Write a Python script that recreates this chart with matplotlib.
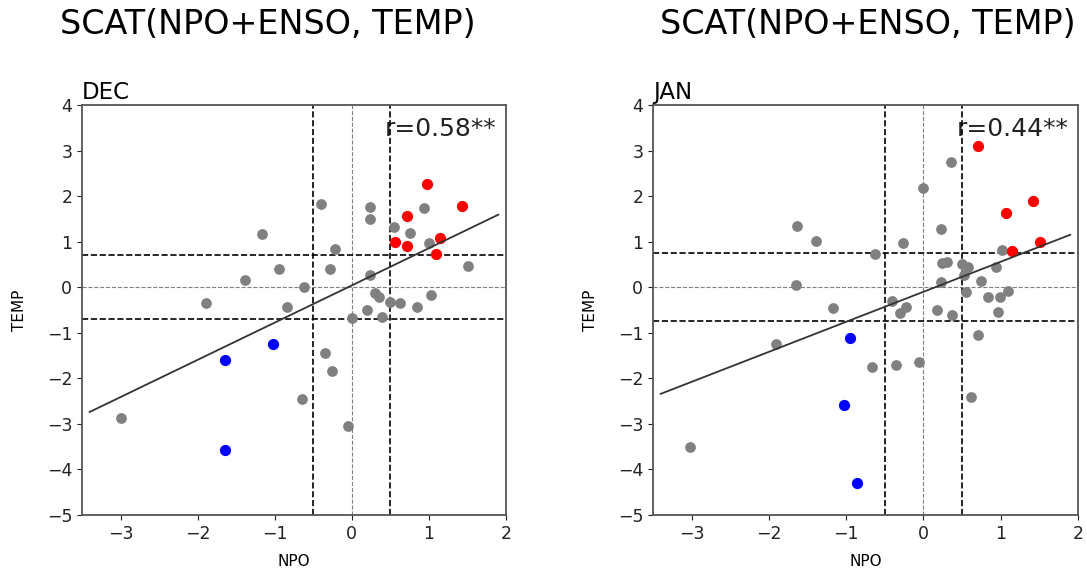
import numpy as np
import matplotlib.pyplot as plt

# ---------------- data ----------------
months = ["DEC", "JAN"]
r_labels = ["r=0.58**", "r=0.44**"]

dec_gray_npo = [-2.99, -1.89, -1.39, -1.16, -0.94, -0.84, -0.62, -0.64, -0.40, -0.35, -0.26,
                -0.05, -0.22, -0.28, 0.24, 0.24, 0.94, 0.55, 0.76, 1.00, 1.51, 0.23, 0.30,
                0.35, 0.49, 0.62, 0.85, 1.03, 0.20, 0.00, 0.39]
dec_gray_temp = [-2.87, -0.35, 0.15, 1.16, 0.40, -0.44, 0.00, -2.45, 1.82, -1.45, -1.84,
                 -3.05, 0.83, 0.39, 1.76, 1.49, 1.75, 1.33, 1.19, 0.96, 0.46, 0.26, -0.13,
                 -0.22, -0.32, -0.35, -0.44, -0.18, -0.50, -0.68, -0.65]
dec_red_npo = [0.98, 1.43, 0.72, 0.56, 0.72, 1.15, 1.09]
dec_red_temp = [2.26, 1.78, 1.56, 0.99, 0.90, 1.09, 0.73]
dec_blue_npo = [-1.65, -1.02, -1.65]
dec_blue_temp = [-1.60, -1.25, -3.57]

jan_gray_npo = [-1.64, -1.39, -1.65, -3.02, -1.91, -0.63, -0.27, -0.01, -1.17, -0.41, -0.23,
                -0.31, 0.35, 0.23, 0.24, 0.30, 0.50, 0.57, 0.53, 0.94, 0.75, 0.23, 0.55,
                0.83, 0.99, 1.10, 0.18, 0.37, 0.97, 1.02, -0.66, -0.35, -0.06, 0.70, 0.61]
jan_gray_temp = [1.34, 1.01, 0.04, -3.51, -1.25, 0.74, 0.96, 2.17, -0.46, -0.31, -0.44,
                 -0.57, 2.74, 1.27, 0.53, 0.55, 0.50, 0.44, 0.26, 0.44, 0.13, 0.11, -0.11,
                 -0.22, -0.22, -0.09, -0.50, -0.61, -0.55, 0.81, -1.75, -1.71, -1.65, -1.05, -2.41]
jan_red_npo = [0.70, 1.42, 1.07, 1.51, 1.15]
jan_red_temp = [3.11, 1.89, 1.62, 0.99, 0.79]
jan_blue_npo = [-0.95, -1.03, -0.86]
jan_blue_temp = [-1.11, -2.59, -4.30]

# thresholds and fitted line (slope, intercept) per month
npo_thresh = [0.5, 0.5]
temp_thresh = [0.70, 0.75]
fit_slope = [0.817, 0.659]
fit_icpt = [0.04, -0.10]

panels = [
    (dec_gray_npo, dec_gray_temp, dec_red_npo, dec_red_temp, dec_blue_npo, dec_blue_temp),
    (jan_gray_npo, jan_gray_temp, jan_red_npo, jan_red_temp, jan_blue_npo, jan_blue_temp),
]

# ---------------- plotting ----------------
fig = plt.figure(figsize=(10.87, 5.75), dpi=100)
W, H = 1087, 575
ax_boxes = [(82, 105, 506, 515), (653, 105, 1078, 515)]
title_x = [268, 868]

for i, box in enumerate(ax_boxes):
    x0, y0, x1, y1 = box
    ax = fig.add_axes([x0 / W, 1 - y1 / H, (x1 - x0) / W, (y1 - y0) / H])
    gx, gy, rx, ry, bx, by = panels[i]

    ax.scatter(gx, gy, s=45, color="gray", zorder=3)
    ax.scatter(rx, ry, s=50, color="red", zorder=4)
    ax.scatter(bx, by, s=50, color="blue", zorder=4)

    # dashed reference lines
    ax.axvline(-npo_thresh[i], color="black", ls="--", lw=1.2, zorder=2)
    ax.axvline(npo_thresh[i], color="black", ls="--", lw=1.2, zorder=2)
    ax.axvline(0, color="gray", ls="--", lw=0.8)
    ax.axhline(temp_thresh[i], color="black", ls="--", lw=1.2)
    ax.axhline(-temp_thresh[i], color="black", ls="--", lw=1.2)
    ax.axhline(0, color="gray", ls="--", lw=0.8)

    # regression line
    xl = np.array([-3.4, 1.9])
    ax.plot(xl, fit_slope[i] * xl + fit_icpt[i], color="#333333", lw=1.3, zorder=5)

    ax.set_xlim(-3.5, 2)
    ax.set_ylim(-5, 4)
    ax.set_xticks([-3, -2, -1, 0, 1, 2])
    ax.set_yticks(range(-5, 5))
    ax.tick_params(labelsize=12.5, colors="#222222")
    for sp in ax.spines.values():
        sp.set_color("#555555")
        sp.set_linewidth(1.3)
    ax.set_xlabel("NPO", fontsize=11, labelpad=8)
    ax.set_ylabel("TEMP", fontsize=11, labelpad=14)
    ax.set_title(months[i], loc="left", fontsize=16.5, pad=4)
    ax.text(0.978, 0.97, r_labels[i], transform=ax.transAxes, ha="right", va="top",
            fontsize=18, color="#222222", zorder=1)

    fig.text(title_x[i] / W, 1 - 25 / H, "SCAT(NPO+ENSO, TEMP)", ha="center",
             va="center", fontsize=24)

fig.savefig("out.png", dpi=100)
